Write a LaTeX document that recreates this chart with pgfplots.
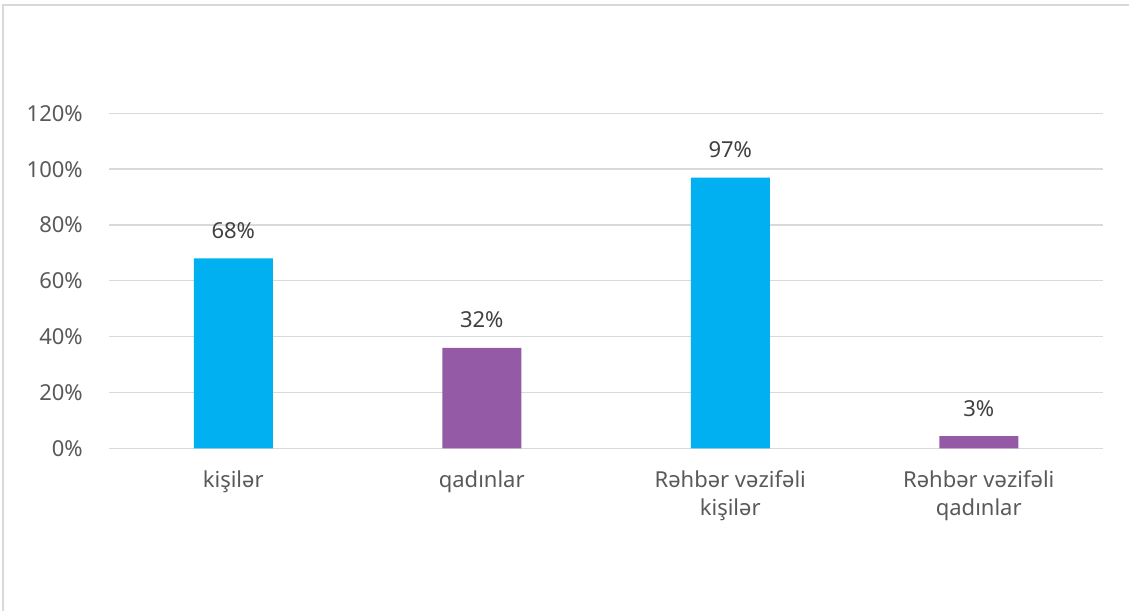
\documentclass[border=0pt]{standalone}
\usepackage{pgfplots}
\pgfplotsset{compat=1.18}
\usepackage{fontspec}
\setmainfont{Noto Sans}
\definecolor{cblue}{HTML}{00B0F0}
\definecolor{cpurp}{HTML}{955AA5}
\definecolor{gridc}{HTML}{D9D9D9}
\definecolor{txt}{HTML}{595959}
\definecolor{lab}{HTML}{404040}
\begin{document}
\begin{tikzpicture}
\useasboundingbox (0,0) rectangle (846.75pt,458.25pt);
\draw[gridc, line width=1.5pt] (2.25pt,0) -- (2.25pt,454.5pt) -- (846.75pt,454.5pt);
\begin{axis}[
  at={(81.75pt,122pt)}, anchor=south west,
  scale only axis, width=745.5pt, height=251.25pt,
  xmin=-0.5, xmax=3.5, ymin=0, ymax=120,
  axis line style={draw=none},
  tick style={draw=none},
  ymajorgrids, grid style={gridc, line width=1pt},
  ytick={0,20,40,60,80,100,120},
  yticklabels={0\%,20\%,40\%,60\%,80\%,100\%,120\%},
  xtick={0,1,2,3},
  xticklabels={kişilər,qadınlar,{Rəhbər vəzifəli\\kişilər},{Rəhbər vəzifəli\\qadınlar}},
  ticklabel style={font=\fontsize{16.5}{21}\selectfont, text=txt},
  yticklabel style={inner sep=0pt, xshift=-19.5pt},
  xticklabel style={align=center, anchor=north, inner sep=0pt, yshift=-12pt},
  ybar, bar width=59.25pt, bar shift=0pt,
  point meta=explicit symbolic,
  nodes near coords,
  every node near coord/.append style={font=\fontsize{16.5}{21}\selectfont, text=lab, anchor=base, inner sep=0pt, yshift=15pt},
  clip=false,
]
\addplot[fill=cblue, draw=none] coordinates {(0,68) [68\%] (2,97) [97\%]};
\addplot[fill=cpurp, draw=none] coordinates {(1,36) [32\%] (3,4.4) [3\%]};
\end{axis}
\end{tikzpicture}
\end{document}
